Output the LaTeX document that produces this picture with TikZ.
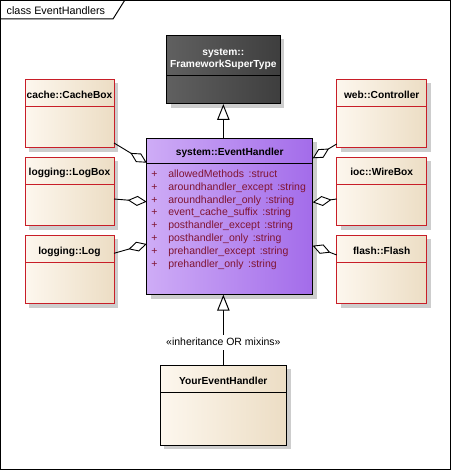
\documentclass[tikz,border=0pt]{standalone}
\usepackage{fontspec}
\setmainfont{Liberation Sans}
\usetikzlibrary{arrows.meta,shadows,calc}
\definecolor{umlred}{RGB}{200,30,40}
\definecolor{creamL}{RGB}{253,247,238}
\definecolor{creamR}{RGB}{236,221,196}
\definecolor{purpL}{RGB}{206,172,246}
\definecolor{purpR}{RGB}{163,108,234}
\definecolor{darkL}{RGB}{96,96,96}
\definecolor{darkR}{RGB}{62,62,62}
\definecolor{attrcol}{RGB}{128,20,50}
\definecolor{shadowgray}{RGB}{205,205,205}
\newcommand\attrgap{\hspace{4.5bp}}
\begin{document}
\begin{tikzpicture}[x=1bp,y=-1bp,
  every node/.style={inner sep=0pt, outer sep=0pt},
  classbox/.style={draw, line width=1bp, anchor=north west,
    drop shadow={shadow xshift=4bp, shadow yshift=-4bp, fill=shadowgray, opacity=1}},
  creambox/.style={classbox, draw=umlred, left color=creamL, right color=creamR},
  purplebox/.style={classbox, draw=black, left color=purpL, right color=purpR},
  darkbox/.style={classbox, draw=black, left color=darkL, right color=darkR},
  plainbox/.style={classbox, draw=black, left color=creamL, right color=creamR},
  divider/.style={line width=1bp},
  ttl/.style={font=\fontsize{10.2bp}{12bp}\selectfont\bfseries, anchor=base},
  attrtext/.style={font=\fontsize{10.5bp}{12bp}\selectfont, text=attrcol, anchor=base west},
  lbl/.style={font=\fontsize{10.5bp}{12bp}\selectfont, fill=white, text height=8bp, text depth=2bp, inner xsep=1bp, inner ysep=2.5bp},
  inherit/.style={draw, line width=1bp, -{Triangle[length=16bp,width=12.5bp,fill=white]}},
  aggr/.style={draw, line width=0.9bp, -{Diamond[length=19bp,width=10bp,fill=white]}}
]
\useasboundingbox (0,0) rectangle (452,471);
% frame
\draw[line width=1.2bp] (0.6,0.6) rectangle (450.6,469.8);
\draw[line width=1bp] (0.6,19) -- (113,19) -- (124.5,0.6);
\node[font=\fontsize{10.8bp}{12bp}\selectfont, anchor=base west] (frametitle) at (6.7,15) {class EventHandlers};

% left column
\node[creambox, minimum width=89bp, minimum height=68.5bp] (cache) at (25,79.3) {};
\draw[divider, umlred] ([yshift=-27.4bp]cache.north west) -- ([yshift=-27.4bp]cache.north east);
\node[ttl] (cacheT) at (69.5,98.3) {cache::CacheBox};

\node[creambox, minimum width=89bp, minimum height=68.5bp] (logbox) at (25,157.3) {};
\draw[divider, umlred] ([yshift=-27bp]logbox.north west) -- ([yshift=-27bp]logbox.north east);
\node[ttl] (logboxT) at (69.5,176) {logging::LogBox};

\node[creambox, minimum width=89bp, minimum height=68.5bp] (log) at (25,235.3) {};
\draw[divider, umlred] ([yshift=-27bp]log.north west) -- ([yshift=-27bp]log.north east);
\node[ttl] (logT) at (69.5,254) {logging::Log};

% right column
\node[creambox, minimum width=90bp, minimum height=68.5bp] (ctrl) at (336.7,79.3) {};
\draw[divider, umlred] ([yshift=-27.4bp]ctrl.north west) -- ([yshift=-27.4bp]ctrl.north east);
\node[ttl] (ctrlT) at (381.7,98.3) {web::Controller};

\node[creambox, minimum width=90bp, minimum height=68.5bp] (wire) at (336.7,157.3) {};
\draw[divider, umlred] ([yshift=-27bp]wire.north west) -- ([yshift=-27bp]wire.north east);
\node[ttl] (wireT) at (381.7,176) {ioc::WireBox};

\node[creambox, minimum width=90bp, minimum height=68.5bp] (flash) at (336.7,235.3) {};
\draw[divider, umlred] ([yshift=-27bp]flash.north west) -- ([yshift=-27bp]flash.north east);
\node[ttl] (flashT) at (381.7,254) {flash::Flash};

% framework super type
\node[darkbox, minimum width=113.3bp, minimum height=68.7bp] (fst) at (166.7,35.3) {};
\draw[divider] ([yshift=-40.4bp]fst.north west) -- ([yshift=-40.4bp]fst.north east);
\node[ttl, text=white] (fstT1) at (223.3,55.3) {system::};
\node[ttl, text=white] (fstT2) at (223.3,67.3) {FrameworkSuperType};

% event handler
\node[purplebox, minimum width=166bp, minimum height=156.4bp] (eh) at (146.7,138.3) {};
\draw[divider] ([yshift=-25.7bp]eh.north west) -- ([yshift=-25.7bp]eh.north east);
\node[ttl] (ehT) at (229.7,156) {system::EventHandler};
\foreach \i/\txt in {0/{allowedMethods\attrgap:struct},
                    1/{aroundhandler\_except\attrgap:string},
                    2/{aroundhandler\_only\attrgap:string},
                    3/{event\_cache\_suffix\attrgap:string},
                    4/{posthandler\_except\attrgap:string},
                    5/{posthandler\_only\attrgap:string},
                    6/{prehandler\_except\attrgap:string},
                    7/{prehandler\_only\attrgap:string}}{
  \node[attrtext] (plus\i) at (151.3,177.3+12.86*\i) {+};
  \node[attrtext] (attr\i) at (168.3,177.3+12.86*\i) {\txt};
}

% your event handler
\node[plainbox, minimum width=126.7bp, minimum height=80bp] (yeh) at (160,365.3) {};
\draw[divider] ([yshift=-27bp]yeh.north west) -- ([yshift=-27bp]yeh.north east);
\node[ttl] (yehT) at (223.3,384) {YourEventHandler};

% generalizations
\draw[inherit] (fst.south |- eh.north) -- (fst.south);
\draw[inherit] (yeh.north) -- node[lbl, pos=0.33] (stereo) {«inheritance OR mixins»} (yeh.north |- eh.south);

% aggregations
\draw[aggr] (cache.east |- 0,143) -- (eh.west |- 0,162.7);
\draw[aggr] (logbox.east |- 0,199) -- (eh.west |- 0,201.7);
\draw[aggr] (log.east |- 0,253.3) -- (eh.west |- 0,244);
\draw[aggr] (ctrl.west |- 0,144) -- (eh.east |- 0,158.3);
\draw[aggr] (wire.west |- 0,199) -- (eh.east |- 0,202.3);
\draw[aggr] (flash.west |- 0,255) -- (eh.east |- 0,245.7);
\end{tikzpicture}
\end{document}
